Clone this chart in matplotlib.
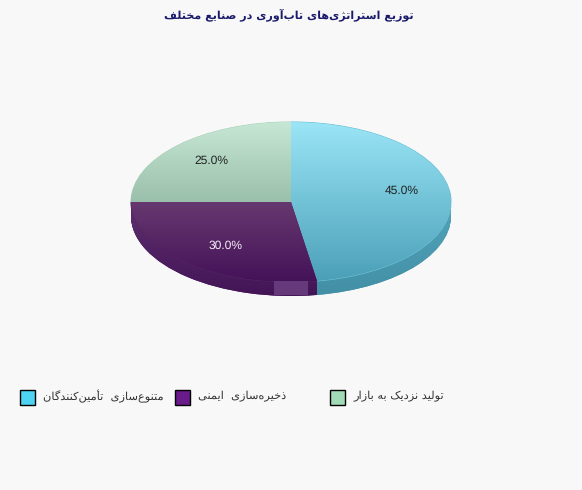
import unicodedata
import numpy as np
import matplotlib
matplotlib.use('Agg')
import matplotlib.pyplot as plt
from matplotlib.colors import LinearSegmentedColormap
from matplotlib.patches import Rectangle, PathPatch
from matplotlib.path import Path

plt.rcParams['text.hinting'] = 'no_hinting'

title = 'توزیع استراتژی‌های تاب‌آوری در صنایع مختلف'
names = ['متنوع‌سازی  تأمین‌کنندگان', 'ذخیره‌سازی  ایمنی', 'تولید نزدیک به بازار']
shares = [45, 30, 25]
# slices as they are really drawn in the picture (differ from the labels)
drawn = [47.4, 27.6, 25]
legend_colors = ['#4fd3f2', '#6a1b8a', '#a0dab6']
top_colors = ['#9ae5f6', '#66386f', '#c6e7d4']
bottom_colors = ['#4ba0b8', '#441258', '#9abfab']
side_top = ['#5fb4cb', '#5e3170', '#9abfab']
side_bottom = ['#4390a6', '#431456', '#9abfab']
label_colors = ['#222222', '#f4f0f6', '#222222']
bg = '#f8f8f8'

# matplotlib does no arabic shaping, so pick presentation forms by hand
forms = {}
for c in list(range(0xFB50, 0xFE00)) + list(range(0xFE70, 0xFEFF)):
	d = unicodedata.decomposition(chr(c)).split()
	if len(d) == 2 and d[0] in ('<isolated>', '<final>', '<initial>', '<medial>'):
		forms.setdefault(chr(int(d[1], 16)), {})[d[0]] = chr(c)
right_only = 'اآأدذرزژو'

def shape(s):
	out = []
	for i, ch in enumerate(s):
		if ch == '\u200c':
			continue
		if ch not in forms:
			out.append(ch)
			continue
		prev = s[i-1] if i > 0 else ' '
		nxt = s[i+1] if i < len(s)-1 else ' '
		join_prev = prev in forms and prev not in right_only
		join_next = nxt in forms and ch not in right_only
		if join_prev and join_next:
			k = '<medial>'
		elif join_prev:
			k = '<final>'
		elif join_next:
			k = '<initial>'
		else:
			k = '<isolated>'
		out.append(forms[ch].get(k, ch))
	return ''.join(out[::-1])

def gradient(c0, c1, box, z, clip):
	cmap = LinearSegmentedColormap.from_list('g', [c0, c1])
	im = ax.imshow(np.linspace(0, 1, 200).reshape(-1, 1), cmap=cmap, aspect='auto', zorder=z,
		extent=[box.x0, box.x1, box.y0, box.y1], origin='upper')
	im.set_clip_path(clip)

W, H = 582, 490
fig = plt.figure(figsize=(W/100, H/100), dpi=100, facecolor=bg)
# axes stretched so that radius 1 is 160 px wide and 80 px high, centre at 291,202
ax = fig.add_axes([(291-200)/W, (H-202-100)/H, 400/W, 200/H])
depth = 14/80

# side of the pie, stacked copies going down, joined into one clip shape per slice
stack = [[], [], []]
for step in np.linspace(depth, 0, 15):
	wedges, _ = ax.pie(drawn, startangle=90, counterclock=False, colors=side_bottom, center=(0, -step))
	for i, w in enumerate(wedges):
		w.set_zorder(1)
		stack[i].append(w.get_path().transformed(w.get_patch_transform()))
for i in range(2):
	side = Path.make_compound_path(*stack[i])
	patch = PathPatch(side, facecolor='none', edgecolor='none', transform=ax.transData)
	ax.add_patch(patch)
	gradient(side_top[i], side_bottom[i], side.get_extents(), 1.5, patch)

wedges, _ = ax.pie(drawn, startangle=90, counterclock=False, colors=bottom_colors,
	wedgeprops={'linewidth': 0.8})
for i, w in enumerate(wedges):
	w.set_zorder(2)
	w.set_edgecolor(np.mean([matplotlib.colors.to_rgb(top_colors[i]), matplotlib.colors.to_rgb(bottom_colors[i])], axis=0))
	box = w.get_path().transformed(w.get_patch_transform()).get_extents()
	gradient(top_colors[i], bottom_colors[i], box, 3, w)

# the small lighter block on the front of the purple rim
fig.add_artist(Rectangle((274/W, (H-295)/H), 34/W, 14/H, transform=fig.transFigure, facecolor='#663a7a', edgecolor='none'))

# labels sit at the true shares, a little above the pie centre
ghost, _, pct = ax.pie(shares, startangle=90, counterclock=False, autopct='%.1f%%', pctdistance=0.7,
	center=(0, 2/80), textprops={'family': 'Liberation Sans', 'fontsize': 8.64})
for i, g in enumerate(ghost):
	g.set_visible(False)
	pct[i].set_color(label_colors[i])
	pct[i].set_zorder(5)

ax.set_aspect('auto')
ax.set_xlim(-1.25, 1.25)
ax.set_ylim(-1.25, 1.25)
ax.axis('off')

fig.text(289/W, 1-15/H, shape(title), ha='center', va='center', color='#1b1b6b',
	family='DejaVu Sans', weight='bold', fontsize=8)

for i in range(3):
	x = 20+155*i
	fig.add_artist(Rectangle((x/W, (H-405)/H), 15/W, 15/H, transform=fig.transFigure,
		facecolor=legend_colors[i], edgecolor='black', linewidth=1))
	fig.text((x+23)/W, 1-396/H, shape(names[i]), ha='left', va='center', color='#333333',
		family='DejaVu Sans', fontsize=8.2)

fig.savefig('out.png', dpi=100, facecolor=bg)
